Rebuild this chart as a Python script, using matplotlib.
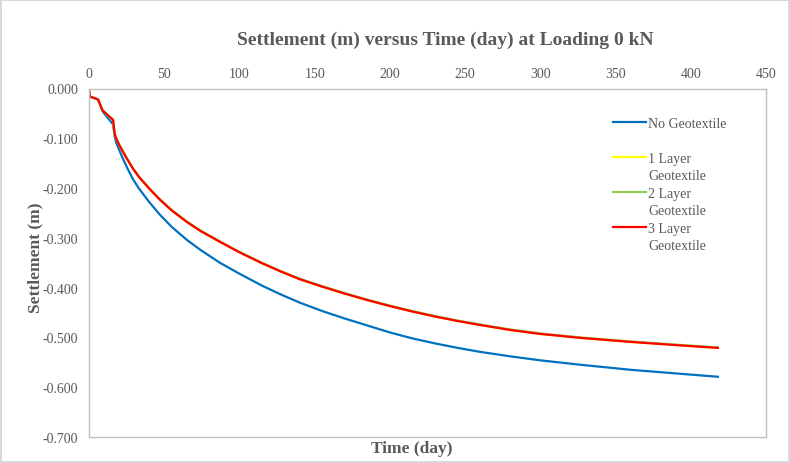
import numpy as np
import matplotlib
matplotlib.use('Agg')
import matplotlib.pyplot as plt
from matplotlib.legend_handler import HandlerLine2D

# readings
time_day = [0, 0.5, 6, 9, 16, 17, 18, 20, 22, 25, 29, 33, 40, 47, 55, 65, 74, 87,
            100, 115, 127, 140, 155, 170, 185, 200, 215, 230, 245, 260, 280, 300,
            327, 360, 393, 418]
no_geo = [0.000, -0.016, -0.022, -0.046, -0.072, -0.095, -0.108, -0.123, -0.137,
          -0.157, -0.181, -0.200, -0.228, -0.253, -0.278, -0.304, -0.324, -0.350,
          -0.372, -0.396, -0.413, -0.430, -0.447, -0.462, -0.476, -0.490, -0.502,
          -0.512, -0.521, -0.529, -0.538, -0.546, -0.555, -0.565, -0.573, -0.579]
layer1 = [0.000, -0.016, -0.022, -0.044, -0.063, -0.090, -0.100, -0.113, -0.124,
          -0.140, -0.160, -0.177, -0.201, -0.223, -0.245, -0.268, -0.286, -0.308,
          -0.329, -0.351, -0.367, -0.383, -0.398, -0.412, -0.425, -0.437, -0.448,
          -0.458, -0.467, -0.475, -0.485, -0.493, -0.501, -0.509, -0.516, -0.521]
layer2 = [0.000, -0.016, -0.022, -0.044, -0.063, -0.089, -0.099, -0.112, -0.123,
          -0.139, -0.159, -0.176, -0.200, -0.222, -0.244, -0.267, -0.285, -0.307,
          -0.328, -0.350, -0.366, -0.382, -0.397, -0.411, -0.424, -0.436, -0.447,
          -0.457, -0.466, -0.474, -0.484, -0.492, -0.500, -0.508, -0.515, -0.520]
layer3 = [0.000, -0.016, -0.022, -0.044, -0.063, -0.090, -0.100, -0.113, -0.124,
          -0.140, -0.160, -0.177, -0.201, -0.223, -0.245, -0.268, -0.286, -0.308,
          -0.329, -0.351, -0.367, -0.383, -0.398, -0.412, -0.425, -0.437, -0.448,
          -0.458, -0.467, -0.475, -0.485, -0.493, -0.501, -0.509, -0.516, -0.521]

labels = ['No Geotextile\n', '1 Layer\nGeotextile', '2 Layer\nGeotextile', '3 Layer\nGeotextile']
colors = ['#0070C0', '#FFFF00', '#92D050', '#FF0000']
xticks = np.arange(0, 451, 50)
yticks = np.arange(0, -0.71, -0.1)

plt.rcParams['font.family'] = ['Liberation Serif', 'DejaVu Serif']
gray = '#595959'

fig = plt.figure(figsize=(7.9, 4.64), dpi=100)
fig.patch.set_edgecolor('#d9d9d9')
fig.patch.set_linewidth(1.5)
ax = fig.add_axes([89 / 790, 1 - 438 / 464, (766 - 89) / 790, (438 - 89.5) / 464])

for ys, lab, col in zip([no_geo, layer1, layer2, layer3], labels, colors):
    ax.plot(time_day, ys, color=col, lw=1.6, label=lab)

ax.set_xlim(0, 450)
ax.set_ylim(-0.7, 0)
ax.set_xticks(xticks)
ax.set_yticks(yticks)
ax.set_yticklabels(['%.3f' % v if abs(v) > 1e-9 else '0.000' for v in yticks])
ax.xaxis.set_ticks_position('top')
ax.xaxis.set_label_position('bottom')
ax.tick_params(axis='both', length=0, labelsize=10, labelcolor=gray)
ax.tick_params(axis='x', pad=6)
ax.tick_params(axis='y', pad=8)
for s in ax.spines.values():
    s.set_color('#bfbfbf')
    s.set_linewidth(1.0)

ax.set_xlabel('Time (day)', fontsize=12.5, fontweight='bold', color=gray)
ax.set_ylabel('Settlement (m)', fontsize=12.5, fontweight='bold', color=gray)
ax.xaxis.set_label_coords((412 - 89) / 677, -11 / 348.5, transform=ax.transAxes)
ax.xaxis.label.set_va('center')
ax.yaxis.set_label_coords((35 - 89) / 677, (438 - 258) / 348.5, transform=ax.transAxes)
ax.yaxis.label.set_va('center')
fig.text(445 / 790, 1 - 40 / 464, 'Settlement (m) versus Time (day) at Loading 0 kN',
         ha='center', va='center', fontsize=14, fontweight='bold', color=gray)


class TopLine(HandlerLine2D):
    def create_artists(self, legend, orig_handle, xdescent, ydescent, width, height,
                       fontsize, trans):
        arts = super().create_artists(legend, orig_handle, xdescent, ydescent,
                                      width, height, fontsize, trans)
        for a in arts:
            a.set_ydata(np.asarray(a.get_ydata()) + 0.72 * fontsize)
        return arts


leg = ax.legend(loc='upper left', bbox_to_anchor=(0.755, 0.955), frameon=False,
                fontsize=10, handlelength=2.4, handletextpad=0.15, labelspacing=0.36,
                handler_map={matplotlib.lines.Line2D: TopLine()})
for t in leg.get_texts():
    t.set_color(gray)
    t.set_linespacing(1.4)

fig.savefig('out.png', dpi=100)
